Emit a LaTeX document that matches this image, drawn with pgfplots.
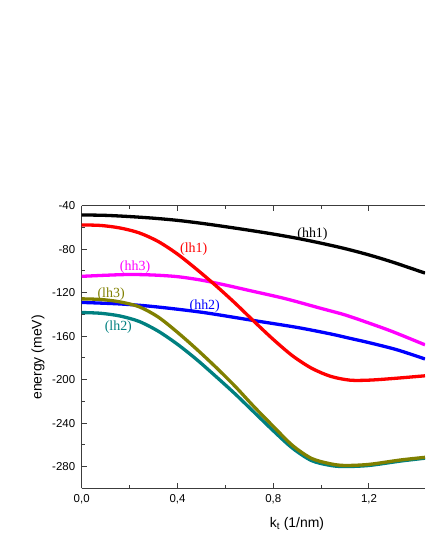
\documentclass[border=0pt]{standalone}
\usepackage{fontspec}
\setmainfont{Liberation Serif}
\setsansfont{Liberation Sans}
\usepackage{pgfplots}
\pgfplotsset{compat=1.18}

\definecolor{olivec}{RGB}{128,128,0}
\definecolor{tealc}{RGB}{0,128,128}
\definecolor{magentac}{RGB}{255,0,255}
\definecolor{axisgray}{RGB}{60,60,60}

\begin{document}
\begin{tikzpicture}[x=1bp,y=1bp]
\useasboundingbox (0,0) rectangle (425,550);
\begin{axis}[
    at={(81.7bp,61.7bp)}, anchor=south west,
    scale only axis,
    width=343.3bp, height=282.6bp,
    xmin=0, xmax=1.434,
    ymin=-300, ymax=-40,
    axis y line*=left,
    axis line style={axisgray, line width=1.1bp},
    every tick/.style={axisgray, line width=1bp},
    major tick length=5.5bp, minor tick length=3.5bp,
    tick align=inside,
    xtick={0,0.4,0.8,1.2},
    ytick={-280,-240,-200,-160,-120,-80,-40},
    minor x tick num=1, minor y tick num=1,
    xticklabel style={font=\fontsize{11.5}{13}\sffamily, yshift=-3bp,
        /pgf/number format/.cd, fixed, fixed zerofill, precision=1, use comma},
    yticklabel style={font=\fontsize{11.5}{13}\sffamily, xshift=-3bp},
    /pgf/number format/assume math mode=true,
    xlabel={k\textsubscript{t} (1/nm)},
    ylabel={energy (meV)},
    label style={font=\fontsize{14}{16}\sffamily},
    xlabel style={at={(rel axis cs:0.627,-0.139)}, anchor=base},
    ylabel style={at={(rel axis cs:-0.1274,0.463)}, anchor=center},
    every axis plot/.append style={line width=3.3bp, smooth},
    clip=true,
]
% hh2
\addplot[blue] coordinates {
(0,-129)(0.16,-130.4)(0.3,-132.8)(0.5,-138)(0.7,-145)(0.9,-152)
(1.04,-158)(1.12,-162)(1.2,-166)(1.316,-172.5)(1.434,-181)};
% hh3
\addplot[magentac] coordinates {
(0,-105)(0.1,-104)(0.2,-103.3)(0.3,-103.8)(0.4,-105.3)(0.5,-108.5)
(0.6,-113)(0.7,-118)(0.85,-125.5)(1.0,-134.5)(1.1,-140.5)(1.2,-148)
(1.3,-156)(1.434,-168)};
% lh2
\addplot[tealc] coordinates {
(0,-138.3)(0.08,-139)(0.16,-141.5)(0.24,-146.5)(0.32,-155.5)(0.4,-167.5)
(0.48,-181.5)(0.56,-197)(0.64,-213)(0.72,-230)(0.8,-247)(0.88,-263)
(0.96,-274.5)(1.04,-279)(1.1,-280)(1.2,-279)(1.33,-275)(1.434,-272.3)};
% lh3
\addplot[olivec] coordinates {
(0,-125.7)(0.08,-126.3)(0.16,-128.5)(0.24,-133)(0.32,-142.5)(0.4,-156.5)
(0.48,-172)(0.56,-188.5)(0.64,-206)(0.72,-225)(0.8,-243)(0.88,-260.5)
(0.96,-272.5)(1.04,-277.5)(1.1,-279)(1.2,-278)(1.33,-274)(1.434,-271.5)};
% lh1
\addplot[red] coordinates {
(0,-57.7)(0.08,-58.2)(0.16,-60.5)(0.24,-65)(0.32,-73)(0.4,-84.5)
(0.48,-98.5)(0.56,-113.5)(0.64,-129.5)(0.72,-146.5)(0.8,-163)(0.88,-178)
(0.96,-189.5)(1.04,-197)(1.12,-200.5)(1.2,-200.5)(1.3,-199)(1.434,-196.5)};
% hh1
\addplot[black] coordinates {
(0,-48.5)(0.1,-48.9)(0.2,-50)(0.3,-51.5)(0.4,-53.5)(0.5,-56.2)(0.6,-59.3)
(0.7,-62.6)(0.8,-66.1)(0.9,-70)(1.0,-74.5)(1.1,-79.5)(1.2,-85.3)
(1.3,-92)(1.434,-102)};

\begin{scope}[every node/.style={font=\fontsize{14}{16}\selectfont\rmfamily, inner sep=0pt}]
\node[black]    at (axis cs:0.964,-66.0)  {(hh1)};
\node[red]      at (axis cs:0.468,-80.0)  {(lh1)};
\node[magentac] at (axis cs:0.223,-96.8)  {(hh3)};
\node[olivec]   at (axis cs:0.123,-121.3) {(lh3)};
\node[blue]     at (axis cs:0.514,-132.8) {(hh2)};
\node[tealc]    at (axis cs:0.153,-151.4) {(lh2)};
\end{scope}
\end{axis}
\end{tikzpicture}
\end{document}
